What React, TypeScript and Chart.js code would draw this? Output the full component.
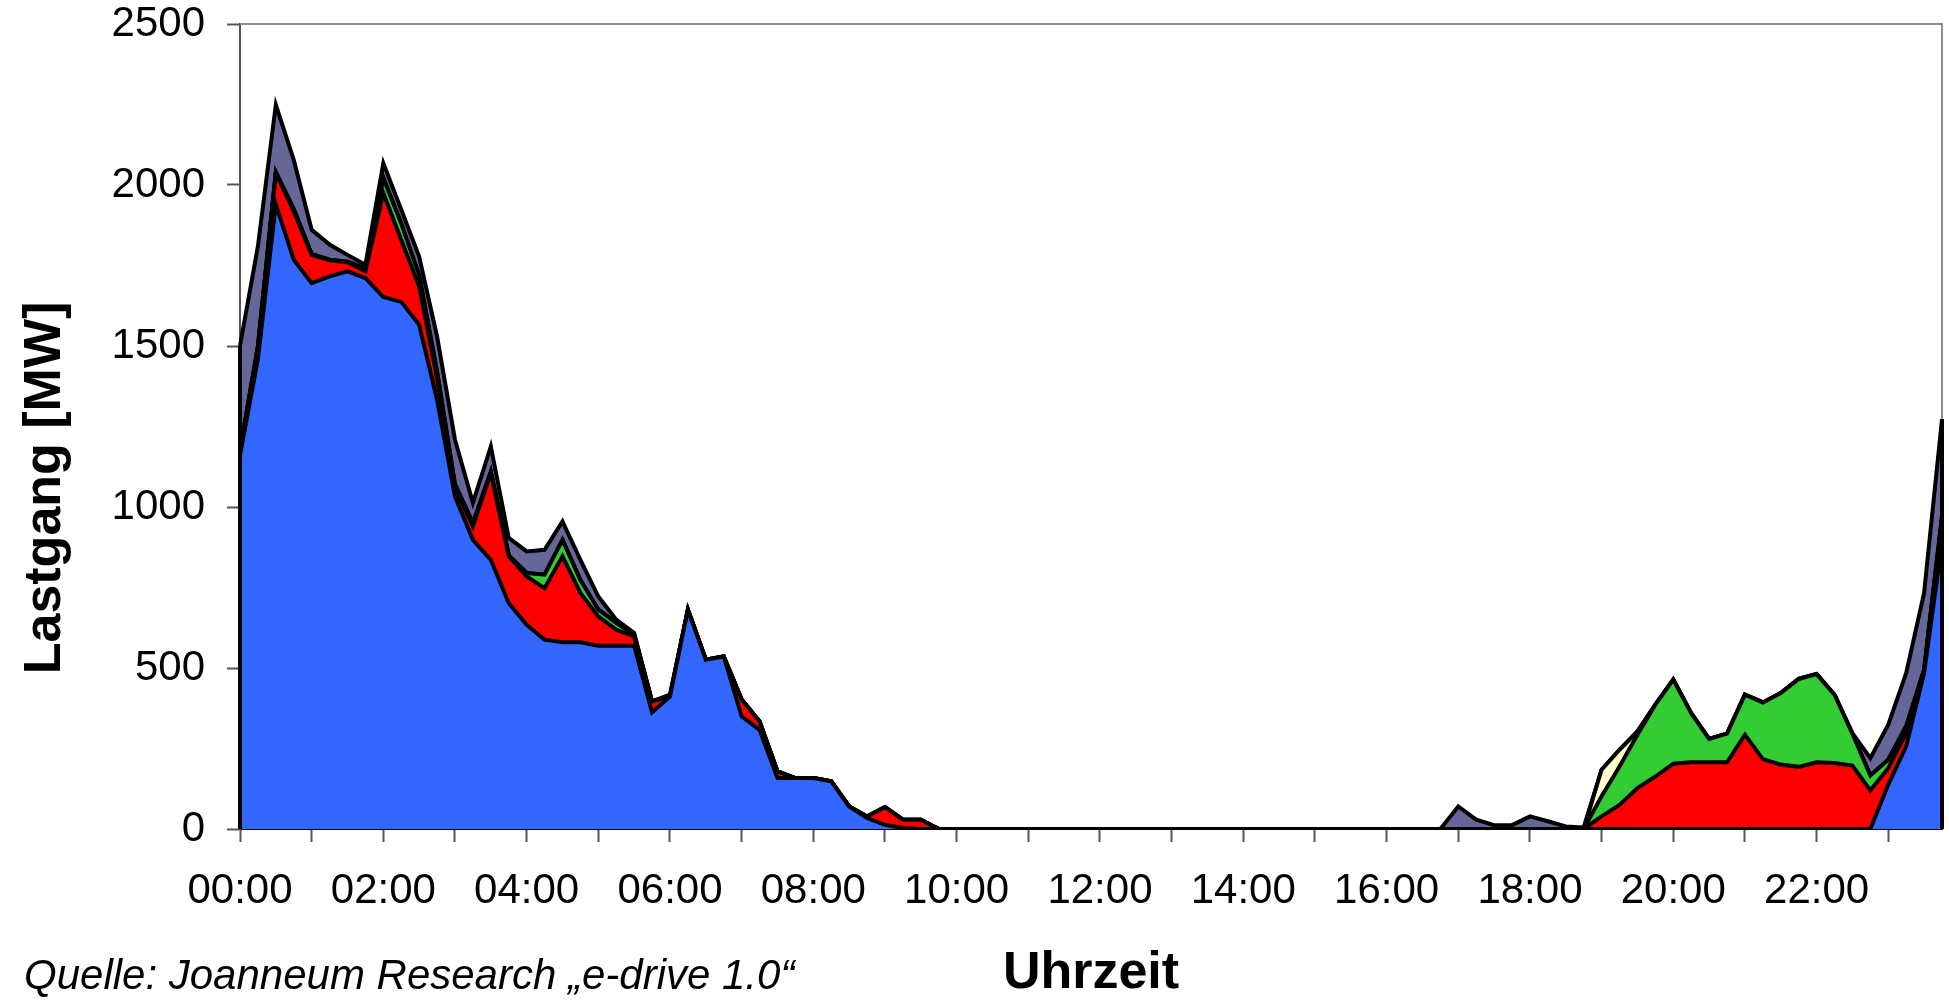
import React, { useEffect, useRef } from "react";
import { Chart, registerables } from "chart.js";

Chart.register(...registerables);

// 15-minute time categories
const TIMES = [
  "00:00","00:15","00:30","00:45","01:00","01:15","01:30","01:45",
  "02:00","02:15","02:30","02:45","03:00","03:15","03:30","03:45",
  "04:00","04:15","04:30","04:45","05:00","05:15","05:30","05:45",
  "06:00","06:15","06:30","06:45","07:00","07:15","07:30","07:45",
  "08:00","08:15","08:30","08:45","09:00","09:15","09:30","09:45",
  "10:00","10:15","10:30","10:45","11:00","11:15","11:30","11:45",
  "12:00","12:15","12:30","12:45","13:00","13:15","13:30","13:45",
  "14:00","14:15","14:30","14:45","15:00","15:15","15:30","15:45",
  "16:00","16:15","16:30","16:45","17:00","17:15","17:30","17:45",
  "18:00","18:15","18:30","18:45","19:00","19:15","19:30","19:45",
  "20:00","20:15","20:30","20:45","21:00","21:15","21:30","21:45",
  "22:00","22:15","22:30","22:45","23:00","23:15","23:30","23:45",
];

// Series values (MW), stacked bottom to top
const BLUE = [
  1160,1460,1940,1768,1695,1716,1732,1711,1652,1637,
  1566,1333,1033,898,836,702,634,588,580,580,
  569,569,569,362,412,681,526,536,350,308,
  158,158,158,148,70,34,13,3,0,0,
  0,0,0,0,0,0,0,0,0,0,
  0,0,0,0,0,0,0,0,0,0,
  0,0,0,0,0,0,0,0,0,0,
  0,0,0,0,0,0,0,0,0,0,
  0,0,0,0,0,0,0,0,0,0,
  0,0,138,257,484,888,
];
const RED = [
  10,30,97,150,88,50,28,21,323,193,
  119,67,27,42,269,145,150,160,267,153,
  91,50,29,34,0,0,0,0,52,26,
  21,0,0,0,0,5,55,26,29,0,
  0,0,0,0,0,0,0,0,0,0,
  0,0,0,0,0,0,0,0,0,0,
  0,0,0,0,0,0,0,0,0,0,
  0,0,0,0,0,0,39,75,127,163,
  203,207,207,207,293,217,200,193,207,205,
  197,120,51,41,6,72,
];
const GREEN = [
  5,10,3,7,2,2,2,8,47,50,
  35,20,10,10,5,3,11,42,51,40,
  21,21,5,0,0,0,0,0,0,0,
  0,0,0,0,0,0,0,0,0,0,
  0,0,0,0,0,0,0,0,0,0,
  0,0,0,0,0,0,0,0,0,0,
  0,0,0,0,0,0,0,0,0,0,
  0,0,0,0,0,0,63,119,166,223,
  261,153,73,89,124,176,222,273,274,212,
  99,46,26,21,5,11,
];
const YELLOW = [
  0,0,0,0,0,0,0,0,0,0,
  0,0,0,0,0,0,0,0,0,0,
  0,0,0,0,0,0,0,0,0,0,
  0,0,0,0,0,0,0,0,0,0,
  0,0,0,0,0,0,0,0,0,0,
  0,0,0,0,0,0,0,0,0,0,
  0,0,0,0,0,0,0,0,0,0,
  0,0,0,0,0,0,82,52,10,0,
  0,0,0,0,0,0,0,0,0,0,
  0,0,0,0,0,0,
];
const PURPLE = [
  325,310,209,153,76,47,21,12,46,43,
  58,110,139,63,78,54,67,77,57,63,
  41,10,6,0,5,0,0,0,0,0,
  0,0,0,0,0,0,0,0,0,0,
  0,0,0,0,0,0,0,0,0,0,
  0,0,0,0,0,0,0,0,0,0,
  0,0,0,0,0,0,0,0,70,29,
  12,12,39,24,8,5,0,0,0,0,
  0,0,0,0,0,0,0,0,0,0,
  2,54,109,165,238,302,
];

const SERIES = [BLUE, RED, GREEN, YELLOW, PURPLE];
const COLORS = ["#3366FF", "#FF0000", "#33CC33", "#FFFFCC", "#666699"];

const Y_MIN = 0;
const Y_MAX = 2500;
const Y_STEP = 500;

const Y_TITLE = "Lastgang [MW]";
const X_TITLE = "Uhrzeit";
const SOURCE = "Quelle: Joanneum Research \u201Ee-drive 1.0\u201C";

const FONT = '"Liberation Sans", Arial, Helvetica, sans-serif';

export default function App() {
  const ref = useRef<HTMLCanvasElement>(null);

  useEffect(() => {
    document.body.style.margin = "0";
    document.body.style.overflow = "hidden";
    const canvas = ref.current;
    if (!canvas) return;

    const framePlugin = {
      id: "frame",
      beforeDatasetsDraw(chart: any) {
        const { ctx, chartArea } = chart;
        ctx.save();
        ctx.strokeStyle = "#8c8c8c";
        ctx.lineWidth = 2;
        ctx.beginPath();
        ctx.moveTo(chartArea.left, chartArea.top);
        ctx.lineTo(chartArea.right, chartArea.top);
        ctx.lineTo(chartArea.right, chartArea.bottom);
        ctx.stroke();
        ctx.restore();
      },
      afterDatasetsDraw(chart: any) {
        const { ctx } = chart;
        const xs = chart.scales.x;
        const ys = chart.scales.y;
        const last = TIMES.length - 1;
        const totals = (i: number) => SERIES.reduce((s, arr) => s + arr[i], 0);
        ctx.save();
        ctx.strokeStyle = "#000";
        ctx.lineWidth = 4;
        [0, last].forEach((i) => {
          const x = xs.getPixelForValue(i);
          ctx.beginPath();
          ctx.moveTo(x, ys.getPixelForValue(0));
          ctx.lineTo(x, ys.getPixelForValue(totals(i)));
          ctx.stroke();
        });
        ctx.restore();
      },
      afterDraw(chart: any) {
        const { ctx, chartArea } = chart;
        ctx.save();
        ctx.fillStyle = "#000";
        // y title
        ctx.font = `bold 52px ${FONT}`;
        ctx.textAlign = "center";
        ctx.textBaseline = "middle";
        ctx.translate(46, 488);
        ctx.rotate(-Math.PI / 2);
        ctx.fillText(Y_TITLE, 0, 0);
        ctx.setTransform(1, 0, 0, 1, 0, 0);
        // x title
        ctx.font = `bold 52px ${FONT}`;
        ctx.textAlign = "center";
        ctx.textBaseline = "middle";
        ctx.fillText(X_TITLE, (chartArea.left + chartArea.right) / 2, 974);
        // source
        ctx.font = `italic 42px ${FONT}`;
        ctx.textAlign = "left";
        ctx.fillText(SOURCE, 24, 977);
        ctx.restore();
      },
    };

    const datasets = SERIES.map((arr, k) => ({
      label: ["Blau", "Rot", "Grün", "Gelb", "Violett"][k],
      data: arr,
      backgroundColor: COLORS[k],
      borderColor: "#000000",
      borderWidth: 4,
      pointRadius: 0,
      pointHoverRadius: 0,
      tension: 0,
      fill: k === 0 ? "origin" : "-1",
    }));

    const chart = new Chart(canvas, {
      type: "line",
      data: { labels: TIMES, datasets },
      options: {
        responsive: false,
        animation: false,
        devicePixelRatio: 1,
        layout: { padding: { top: 24, right: 7, left: 0, bottom: 0 } },
        plugins: {
          legend: { display: false },
          tooltip: { enabled: false },
          title: { display: false },
        },
        scales: {
          x: {
            type: "category",
            offset: false,
            grid: {
              drawOnChartArea: false,
              drawTicks: true,
              tickLength: 13,
              tickWidth: 2,
              tickColor: (c: any) => (c.index % 4 === 0 ? "#555555" : "rgba(0,0,0,0)"),
            },
            border: { display: true, color: "#000000", width: 2 },
            ticks: {
              autoSkip: false,
              maxRotation: 0,
              minRotation: 0,
              padding: 24,
              color: "#000",
              font: { size: 42, family: FONT },
              callback: (_v: any, i: number) => (i % 8 === 0 ? TIMES[i] : ""),
            },
            afterFit: (s: any) => {
              s.height = 171;
              s.paddingRight = 0;
              s.paddingLeft = 0;
            },
          },
          y: {
            stacked: true,
            min: Y_MIN,
            max: Y_MAX,
            grid: {
              drawOnChartArea: false,
              drawTicks: true,
              tickLength: 13,
              tickWidth: 2,
              tickColor: "#555555",
            },
            border: { display: true, color: "#555555", width: 2 },
            ticks: {
              stepSize: Y_STEP,
              padding: 22,
              color: "#000",
              font: { size: 42, family: FONT },
              callback: (v: any) => String(v),
            },
            afterFit: (s: any) => {
              s.width = 240;
              s.paddingTop = 0;
              s.paddingBottom = 0;
            },
          },
        },
      },
      plugins: [framePlugin],
    });

    return () => chart.destroy();
  }, []);

  return (
    <canvas
      ref={ref}
      width={1949}
      height={1000}
      style={{ display: "block", width: "1949px", height: "1000px" }}
    />
  );
}
